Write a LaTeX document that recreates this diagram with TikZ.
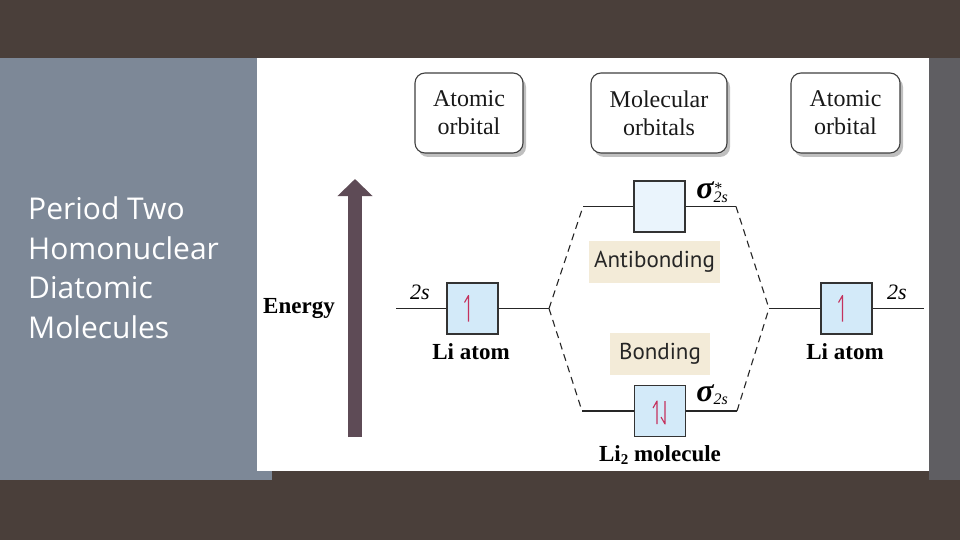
\documentclass[tikz,border=0pt]{standalone}
\usepackage{fontspec}
\setmainfont{Liberation Serif}
\newfontfamily\slidefont{Open Sans}
\newfontfamily\tagfont{PT Sans}
\usetikzlibrary{arrows.meta,shadows}

\definecolor{slidebg}{HTML}{4A3F3A}
\definecolor{panelgray}{HTML}{7D8897}
\definecolor{stripgray}{HTML}{5F5E62}
\definecolor{orbblue}{HTML}{D3EAF9}
\definecolor{orbpale}{HTML}{EAF4FC}
\definecolor{tagbeige}{HTML}{F3EBD8}
\definecolor{spinred}{HTML}{C4325E}
\definecolor{energyarrow}{HTML}{5E4B56}

\begin{document}
\begin{tikzpicture}[x=1pt,y=-1pt,
  head/.style={draw=black!75,line width=1.1pt,rounded corners=10pt,fill=white,
    minimum height=80pt,align=center,text=black!90,
    font=\fontsize{24}{28}\selectfont,
    drop shadow={shadow xshift=3pt,shadow yshift=-4pt,fill=black,opacity=.25}},
  orb/.style={draw=black!80,line width=1.2pt,fill=orbblue,minimum size=51pt,inner sep=0pt},
  level/.style={line width=1.2pt,black!85},
  corr/.style={line width=1.1pt,black!85,dash pattern=on 7pt off 5pt},
  tag/.style={fill=tagbeige,minimum height=42pt,inner sep=0pt,
    font=\tagfont\fontsize{23}{26}\selectfont,text=black!85},
  lbl/.style={font=\fontsize{22}{24}\selectfont},
  siglbl/.style={font=\itshape\bfseries\fontsize{32}{34}\selectfont,inner sep=0pt},
  atomlbl/.style={font=\bfseries\fontsize{23}{26}\selectfont},
  spin/.style={spinred,line width=1.1pt,line join=round}]

\fill[slidebg] (0,0) rectangle (960,540);
\fill[panelgray] (0,58) rectangle (272,480);
\fill[stripgray] (929,58) rectangle (960,480);
\fill[white] (257,58) rectangle (929,471);

\node[anchor=north west,align=left,text=white,inner sep=0pt,
  font=\slidefont\fontsize{30}{39.5}\selectfont] (title) at (28,197)
  {Period Two\\Homonuclear\\Diatomic\\Molecules};

\node[head,minimum width=108pt] (hleft) at (469,113) {Atomic\\orbital};
\node[head,minimum width=136pt] (hmid) at (659,113) {Molecular\\orbitals};
\node[head,minimum width=109pt] (hright) at (845.5,113) {Atomic\\orbital};

\coordinate (ebase) at (355,437);
\coordinate (etop) at (355,179);
\draw[energyarrow,line width=14pt,-{Triangle[width=34pt,length=17pt]}] (ebase) -- (etop);
\node[font=\bfseries\fontsize{23}{26}\selectfont] (energy) at (299,309) {Energy};

\node[orb] (ao1) at (472.5,308.5) {};
\node[orb] (ao2) at (846.5,308.5) {};
\node[orb,fill=orbpale] (sigstar) at (659.5,206.5) {};
\node[orb] (sig) at (660,411) {};

\coordinate (ol) at (396,308.5);
\coordinate (jl) at (549,308.5);
\coordinate (jr) at (769,308.5);
\coordinate (or) at (924,308.5);
\coordinate (asl) at (583,206.5);
\coordinate (asr) at (736,206.5);
\coordinate (bsl) at (582,411);
\coordinate (bsr) at (737,411);

\draw[level] (ol) -- (ao1.west);
\draw[level] (ao1.east) -- (jl);
\draw[level] (jr) -- (ao2.west);
\draw[level] (ao2.east) -- (or);
\draw[level] (asl) -- (sigstar.west);
\draw[level] (sigstar.east) -- (asr);
\draw[level] (bsl) -- (sig.west);
\draw[level] (sig.east) -- (bsr);

\draw[corr] (jl) -- (asl);
\draw[corr] (jl) -- (bsl);
\draw[corr] (asr) -- (jr);
\draw[corr] (bsr) -- (jr);

\draw[spin] (ao1.center) ++(-4,13) -- ++(0,-26) -- ++(-4,7);
\draw[spin] (ao2.center) ++(-4,13) -- ++(0,-26) -- ++(-4,7);
\draw[spin] (sig.center) ++(-3,13) -- ++(0,-23) -- ++(-4,7);
\draw[spin] (sig.center) ++(5,-10) -- ++(0,23) -- ++(-4,-7);

\node[lbl] (s2l) at (420,292) {\textit{2s}};
\node[lbl] (s2r) at (897,292) {\textit{2s}};
\node[siglbl,anchor=base] (sslbl) at (712,198)
  {σ\rlap{\raisebox{5pt}{\mdseries\fontsize{16}{16}\selectfont *}}\raisebox{-4pt}{\mdseries\fontsize{16}{16}\selectfont 2s}};
\node[siglbl,anchor=base] (slbl) at (712,401)
  {σ\raisebox{-3pt}{\mdseries\fontsize{16}{16}\selectfont 2s}};

\node[atomlbl] (li1) at (471,352) {Li atom};
\node[atomlbl] (li2) at (845,352) {Li atom};
\node[atomlbl] (li2mol) at (660,455) {Li\raisebox{-0.3ex}{\fontsize{15}{16}\selectfont 2} molecule};

\node[tag,minimum width=131pt] (anti) at (654.5,262) {Antibonding};
\node[tag,minimum width=100pt] (bond) at (660,354) {Bonding};

\end{tikzpicture}
\end{document}
